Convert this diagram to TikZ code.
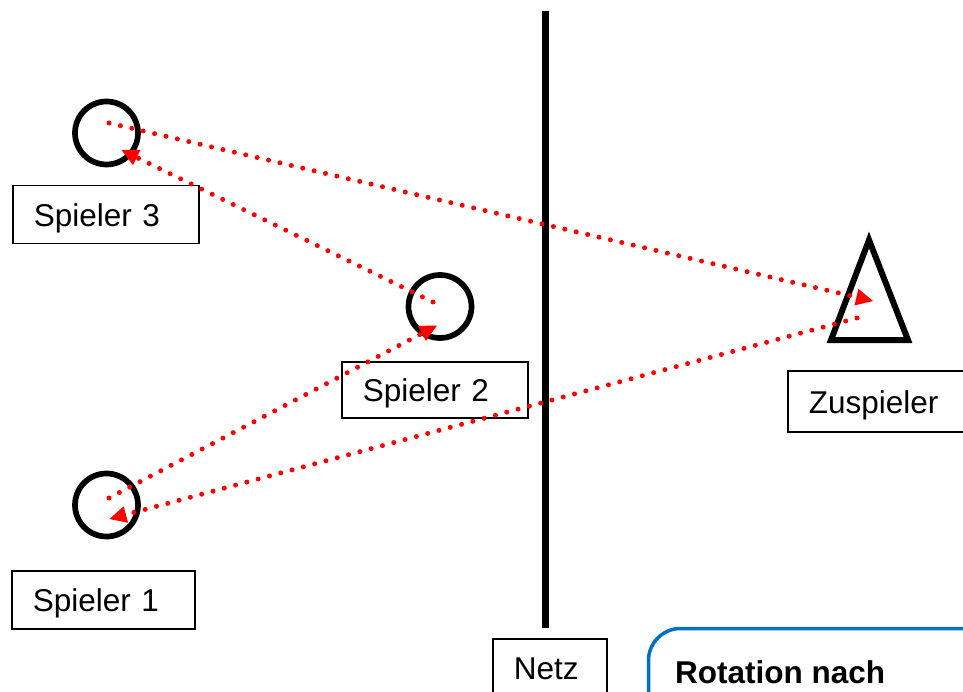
\documentclass[tikz,border=0pt]{standalone}
\usepackage{fontspec}
\setmainfont{Liberation Sans}
\usetikzlibrary{arrows.meta,calc}
\definecolor{passred}{RGB}{255,0,0}
\definecolor{framblue}{RGB}{0,112,192}
\begin{document}
\begin{tikzpicture}[x=1pt,y=-1pt,
  txt/.style={font=\fontsize{31.5}{36}\selectfont},
  player/.style={circle, draw, line width=5.7pt, minimum size=63pt, inner sep=0pt},
  namebox/.style={txt, draw, line width=1.5pt, anchor=north west, inner xsep=21pt,
    inner ysep=0pt, text height=24pt, text depth=0pt, align=left},
  pass/.style={draw=passred, line width=5pt, line cap=round,
    dash pattern=on 0pt off 11.7pt,
    -{Triangle[length=17pt,width=17pt,line width=0pt]}}
]
\useasboundingbox (0,0) rectangle (963,692);
\clip (0,0) rectangle (963,692);

% the net
\draw[line width=7pt] (545.5,11) -- (545.5,628);

% players and setter
\node[player] (s3) at (106.5,133) {};
\node[player] (s2) at (440,306.5) {};
\node[player] (s1) at (106.5,505) {};
\draw[line width=6pt, miter limit=20] (831,340) -- (908,340) -- (869,240) -- cycle;
\coordinate (zs) at (869,305);

% name tags
\node[namebox, text width=144pt, minimum height=58pt] (l3) at (12,185) {Spieler 3};
\node[namebox, text width=144pt, minimum height=56pt] (l2) at (341,361) {Spieler 2};
\node[namebox, text width=170pt, minimum height=61pt] (lz) at (787,370) {Zuspieler};
\node[namebox, text width=141pt, minimum height=58pt] (l1) at (11,570) {Spieler 1};
\node[namebox, text width=72pt, minimum height=58pt] (ln) at (492,638) {Netz};

% text panel
\draw[framblue, line width=3.5pt, rounded corners=32pt] (648.5,628.5) rectangle (1010,780);
\node[txt, font=\fontsize{31.5}{36}\selectfont\bfseries, anchor=base west, inner sep=0pt] (rot) at (675,683) {Rotation nach};

% ball paths
\coordinate (s3a) at ($(s3)+(2.5,-10)$);
\coordinate (s3b) at ($(s3)+(15,17)$);
\coordinate (s2a) at ($(s2)+(-7,-4.5)$);
\coordinate (s2b) at ($(s2)+(-3,19)$);
\coordinate (s1a) at ($(s1)+(2.5,-7)$);
\coordinate (s1b) at ($(s1)+(3,14)$);
\coordinate (zsa) at ($(zs)+(4,-4)$);
\coordinate (zsb) at ($(zs)+(-12,13)$);

\draw[pass] (s3a) -- (zsa);
\draw[pass] (zsb) -- (s1b);
\draw[pass] (s1a) -- (s2b);
\draw[pass] (s2a) -- (s3b);
\end{tikzpicture}
\end{document}
